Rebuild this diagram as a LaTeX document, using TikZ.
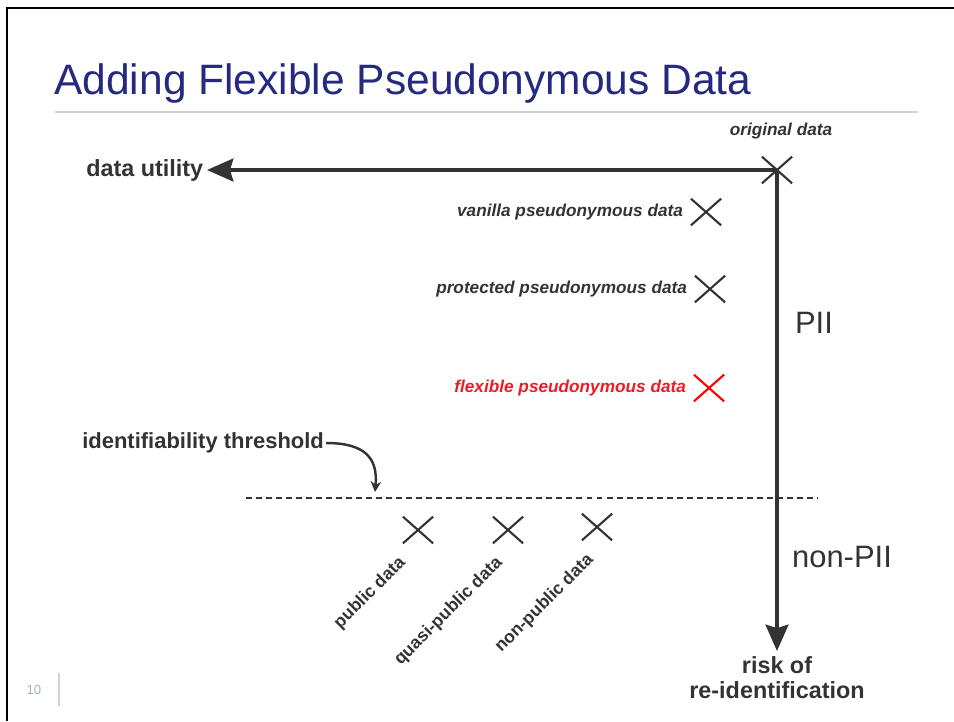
\documentclass[tikz,border=0pt]{standalone}
\usepackage{fontspec}
\setmainfont{Liberation Sans}
\usetikzlibrary{arrows.meta,positioning,shapes.misc}

\definecolor{titleblue}{RGB}{37,42,128}
\definecolor{inkgray}{RGB}{51,51,51}
\definecolor{flexred}{RGB}{236,28,36}
\definecolor{pagegray}{RGB}{150,180,205}
\definecolor{rulegray}{RGB}{210,210,205}

\tikzset{
  axis/.style={draw=inkgray, line width=2.2pt, -{Stealth[length=15pt,width=13pt,inset=2pt]}},
  xmark/.style={draw=inkgray, cross out, line width=1.2pt, minimum width=16pt, minimum height=14pt, inner sep=0pt},
  axislabel/.style={font=\bfseries\fontsize{13.3}{14}\selectfont, text=inkgray},
  datalabel/.style={font=\bfseries\itshape\fontsize{9.8}{11}\selectfont, text=inkgray},
  pubdata/.style={font=\bfseries\fontsize{10}{11}\selectfont, text=inkgray, anchor=east, rotate=45, inner sep=0pt},
  pii/.style={font=\fontsize{17.6}{20}\selectfont, text=inkgray},
}

\begin{document}
\begin{tikzpicture}[x={(0.02cm,0)}, y={(0,-0.02cm)}]
\useasboundingbox (0,0) rectangle (954,721);

% slide frame and title
\draw[line width=1.7pt] (7,721) -- (7,8) -- (954,8);
\node[anchor=base west, inner sep=0pt, text=titleblue, font=\fontsize{24.2}{28}\selectfont] (title) at (54,94) {Adding Flexible Pseudonymous Data};
\draw[rulegray, line width=1.1pt] (55,112) -- (918,112);

% axes
\coordinate (corner) at (777,170);
\coordinate (utip) at (207,170);
\coordinate (rtip) at (777,651);
\draw[axis] (corner) -- (utip);
\draw[axis] (corner) -- (rtip);
\node[axislabel, anchor=east, inner sep=2pt] (utility) at (utip) {data utility};
\node[axislabel, below=3pt of rtip, align=center, inner sep=0pt] (risk) {risk of\\re-identification};
\node[pii] (pii) at (814,323) {PII};
\node[pii] (nonpii) at (842,557) {non-PII};

% data points
\node[xmark] (orig) at (corner) {};
\node[datalabel] (origlbl) at (781,131) {original data};
\node[xmark] (vanilla) at (706,212) {};
\node[datalabel, left=1pt of vanilla] (vanillalbl) {vanilla pseudonymous data};
\node[xmark] (protected) at (710,289) {};
\node[datalabel, left=1pt of protected] (protectedlbl) {protected pseudonymous data};
\node[xmark, draw=red] (flexible) at (709,388) {};
\node[datalabel, text=flexred, left=1pt of flexible] (flexiblelbl) {flexible pseudonymous data};

% identifiability threshold
\coordinate (thrleft) at (246,498);
\coordinate (thrright) at (818,498);
\draw[inkgray, line width=0.9pt, dash pattern=on 3.4pt off 2.3pt] (thrleft) -- (thrright);
\node[axislabel, font=\bfseries\fontsize{12.5}{14}\selectfont, anchor=east, inner sep=1pt] (thrlbl) at (326,443) {identifiability threshold};
\coordinate (thrtip) at (375,492);
\draw[inkgray, line width=1.4pt, -{Stealth[length=6pt,width=6pt]}] (thrlbl.east) .. controls (365,443) and (378,458) .. (thrtip);

% public side
\node[xmark] (public) at (418,530) {};
\node[xmark] (quasi) at (508,530) {};
\node[xmark] (nonpublic) at (597,527) {};
\node[pubdata] (publiclbl) at (403,560) {public data};
\node[pubdata] (quasilbl) at (500,560) {quasi-public data};
\node[pubdata] (nonpubliclbl) at (591,557) {non-public data};

% page number
\node[text=pagegray, font=\fontsize{7.5}{9}\selectfont] (pageno) at (34,690) {10};
\draw[rulegray, line width=0.8pt] (59,673) -- (59,706);
\end{tikzpicture}
\end{document}
